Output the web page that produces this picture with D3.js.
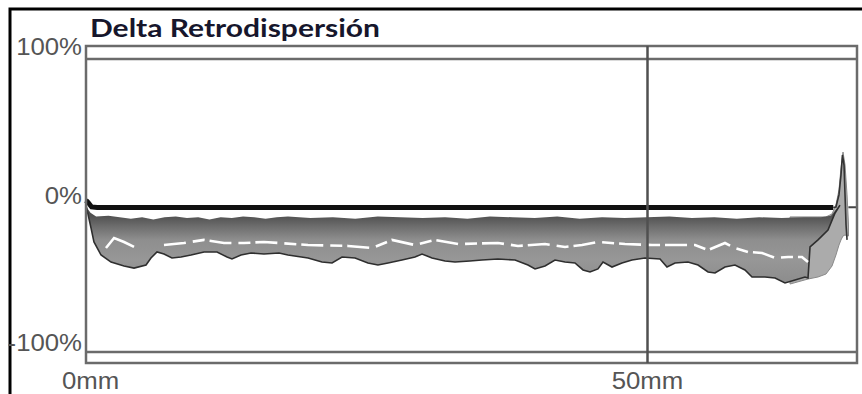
<!DOCTYPE html>
<html>
<head>
<meta charset="utf-8">
<script src="https://cdn.jsdelivr.net/npm/d3@7"></script>
<style>
  html, body { margin: 0; padding: 0; background: #fff; }
  svg { display: block; }
  .tick-label { font-family: "Liberation Sans", Arial, sans-serif; font-size: 23px; fill: #555; }
</style>
</head>
<body>
<svg id="chart" width="862" height="394"></svg>
<script>
// tick labels
const xTicks = [0, 50];
const yTicks = [100, 0, -100];

// lower edge of the profile band (outlined), depth in mm / delta in %
const lowerMm = [0, 0.45, 0.71, 1.34, 2.23, 3.39, 4.28, 5.35, 5.79, 6.33, 6.95, 7.66, 8.47, 9.36, 10.52, 11.68,
  12.57, 13.01, 13.81, 14.71, 15.86, 17.2, 18.0, 19.79, 21.03, 21.93, 22.82, 23.98, 25.13, 26.02, 26.92, 28.16,
  29.32, 29.95, 30.84, 32.0, 32.89, 34.22, 35.29, 36.72, 38.24, 39.39, 40.02, 40.91, 41.8, 42.69, 43.58, 44.3,
  44.92, 45.63, 46.08, 46.88, 47.77, 48.66, 49.82, 51.16, 51.78, 52.5, 53.65, 54.55, 55.44, 56.06, 56.95, 57.84,
  58.73, 59.36, 60.52, 61.41, 62.3, 63.19, 64.08, 64.35, 64.53, 65.24, 66.13, 66.76, 67.2];
const lowerPct = [0.3, -15.4, -24.9, -33.8, -38.6, -41.3, -42.7, -40.6, -35.8, -31.7, -33.1, -35.8, -35.2, -33.8, -31.7, -31.7,
  -35.2, -36.5, -33.8, -32.4, -33.1, -32.4, -33.8, -35.8, -38.6, -39.2, -35.2, -35.8, -39.2, -40.6, -39.2, -37.2,
  -35.2, -33.1, -35.8, -37.9, -38.6, -37.9, -37.2, -36.5, -37.2, -40.6, -43.3, -41.3, -37.2, -38.6, -39.2, -44.0,
  -45.4, -43.3, -38.6, -42.0, -39.2, -37.2, -35.8, -36.5, -42.0, -39.2, -38.6, -40.6, -45.4, -46.1, -42.0, -40.6,
  -44.0, -48.8, -48.8, -49.5, -52.9, -50.9, -48.8, -49.5, -28.3, -23.5, -16.7, -5.1, 0.3];

// upper edge of the grey band (below the white gap)
const gapMm = [0, 0.4, 0.9, 2, 3, 4, 5, 6, 7, 8, 9, 10, 11, 12, 13, 14, 15, 16, 17, 18, 20, 22, 24, 26, 28, 30, 32,
  34, 36, 38, 40, 42, 44, 46, 48, 50, 52, 54, 56, 58, 60, 62, 64, 65.5, 66.4];
const gapPct = [-0.5, -5, -7.5, -7, -8, -9, -8, -9.5, -8, -7.5, -8.5, -8, -9.5, -8, -8.5, -7.5, -8, -9, -8, -7.5, -8.5,
  -8, -9, -7.5, -8, -8.5, -8, -9, -7.5, -8, -8.5, -7.5, -9, -8, -8.5, -8, -7.5, -8.5, -8, -9, -8, -8.5, -8, -8, -7];

// bright (white) profile inside the band
const whiteMm = [1.78, 2.5, 3.39, 4.28, 6.95, 8.73, 10.52, 12.3, 14.08, 15.86, 17.2, 19.79, 23.35, 25.49, 27.27, 29.32,
  31.11, 33.16, 36.72, 38.5, 40.91, 42.69, 44.21, 45.63, 48.04, 50.45, 52.5, 54.28, 55.44, 56.95, 57.84, 59.0,
  60.25, 61.41, 62.57, 63.81, 64.35];
const whitePct = [-29.0, -22.2, -24.9, -28.3, -27.0, -25.6, -23.5, -25.6, -25.6, -24.9, -25.6, -27.0, -27.6, -29.0, -23.5, -27.0,
  -23.5, -26.3, -25.6, -27.6, -26.3, -28.3, -27.0, -24.9, -26.3, -27.0, -27.0, -27.0, -30.4, -25.6, -29.0, -31.7,
  -32.4, -35.8, -35.2, -35.2, -38.6];

// darkest (reference) profile near 0 %
const bandMm = [0, 0.2, 0.5, 1, 20, 40, 60, 66.6];
const bandPct = [3.5, 2, -1, -1.4, -1.3, -1.4, -1.3, -1.4];
const bandTailMm = [67.95, 68.7];
const bandTailPct = [-1.2, -1.2];

// light tail and spike at the far end of the tube
const tailMm = [62.75, 64.35, 65.24, 65.95, 66.49, 66.84, 67.11, 67.29, 67.47, 67.65, 67.83, 67.96];
const tailUpperPct = [-7.8, -7.8, -7.8, -7.8, -5.8, 0.3, 10.6, 25.6, 36.5, 27.6, 7.2, -13.3];
const tailLowerPct = [-53.6, -50.2, -48.8, -46.8, -41.3, -33.8, -27.0, -23.5, -20.8, -20.1, -20.8, -20.8];
const spikeMm = [66.6, 66.84, 67.11, 67.29, 67.42, 67.56, 67.65, 67.74, 67.83];
const spikePct = [-1.4, -1.0, 7.2, 20.8, 34.5, 27.6, 7.2, -13.3, -23.5];

const svg = d3.select("#chart");
const frame = { left: 86, right: 857, top: 46, bottom: 363 };

const x = d3.scaleLinear().domain([0, 50]).range([86, 647]);
const y = d3.scaleLinear().domain([-100, 100]).range([352, 59]);

function zip(mm, pct) {
  return mm.map((d, i) => [x(d), y(pct[i])]);
}

const line = d3.line();

// outer black border of the picture
svg.append("path")
  .attr("d", "M10,394 V9 H862")
  .attr("fill", "none")
  .attr("stroke", "#000")
  .attr("stroke-width", 3);

// title
svg.append("text")
  .attr("x", 90)
  .attr("y", 37)
  .attr("textLength", 290)
  .attr("lengthAdjust", "spacingAndGlyphs")
  .style("font-family", "Lato, 'Open Sans', sans-serif")
  .style("font-weight", "bold")
  .style("font-size", "24px")
  .style("fill", "#16162c")
  .text("Delta Retrodispersión");

// gradient for the grey band
const grad = svg.append("defs").append("linearGradient")
  .attr("id", "bandFill")
  .attr("gradientUnits", "userSpaceOnUse")
  .attr("x1", 0).attr("x2", 0)
  .attr("y1", y(-7)).attr("y2", y(-50));
grad.selectAll("stop")
  .data([[0, "#505050"], [0.15, "#6a6a6a"], [0.38, "#8e8e8e"], [0.7, "#979797"], [1, "#8e8e8e"]])
  .join("stop")
  .attr("offset", d => d[0])
  .attr("stop-color", d => d[1]);

// light tail at the end
const tailPoly = zip(tailMm, tailUpperPct).concat(zip(tailMm, tailLowerPct).reverse());
svg.append("path")
  .attr("d", line(tailPoly) + "Z")
  .attr("fill", "#ababab")
  .attr("stroke", "#8a8a8a")
  .attr("stroke-width", 1);

// main grey band
const bandPoly = zip(gapMm, gapPct).concat(zip(lowerMm, lowerPct).reverse());
svg.append("path")
  .attr("d", line(bandPoly) + "Z")
  .attr("fill", "url(#bandFill)");

// outline of the lowest profile
svg.append("path")
  .attr("d", line(zip(lowerMm, lowerPct)))
  .attr("fill", "none")
  .attr("stroke", "#2e2e2e")
  .attr("stroke-width", 1.6);

// white profile
svg.append("path")
  .attr("d", line(zip(whiteMm.slice(0, 4), whitePct.slice(0, 4))))
  .attr("fill", "none")
  .attr("stroke", "#fff")
  .attr("stroke-width", 2.6);
svg.append("path")
  .attr("d", line(zip(whiteMm.slice(4), whitePct.slice(4))))
  .attr("fill", "none")
  .attr("stroke", "#fff")
  .attr("stroke-width", 2.6)
  .attr("stroke-dasharray", "22,7,12,5");

// spike
svg.append("path")
  .attr("d", line(zip(spikeMm, spikePct)))
  .attr("fill", "none")
  .attr("stroke", "#333")
  .attr("stroke-width", 1.6);

// darkest profile
svg.append("path")
  .attr("d", line(zip(bandMm, bandPct)))
  .attr("fill", "none")
  .attr("stroke", "#111")
  .attr("stroke-width", 5);
svg.append("path")
  .attr("d", line(zip(bandTailMm, bandTailPct)))
  .attr("fill", "none")
  .attr("stroke", "#444")
  .attr("stroke-width", 2);

// frame and grid
const gridColor = "#6b6b6b";
svg.append("rect")
  .attr("x", frame.left)
  .attr("y", frame.top)
  .attr("width", frame.right - frame.left)
  .attr("height", frame.bottom - frame.top)
  .attr("fill", "none")
  .attr("stroke", gridColor)
  .attr("stroke-width", 2.5);

svg.selectAll(".hgrid")
  .data(yTicks.filter(d => d !== 0))
  .join("line")
  .attr("class", "hgrid")
  .attr("x1", frame.left).attr("x2", frame.right)
  .attr("y1", d => y(d)).attr("y2", d => y(d))
  .attr("stroke", gridColor)
  .attr("stroke-width", 2.5);

const xAxis = svg.append("g")
  .attr("transform", `translate(0,${frame.bottom})`)
  .call(d3.axisBottom(x).tickValues(xTicks).tickSize(frame.top - frame.bottom).tickFormat(d => d + "mm"));
xAxis.select(".domain").remove();
xAxis.selectAll(".tick line")
  .attr("stroke", "#505050")
  .attr("stroke-width", 2.5)
  .attr("display", d => d === 0 ? "none" : null);
xAxis.selectAll(".tick text")
  .attr("class", "tick-label")
  .attr("y", 26)
  .attr("dy", 0)
  .attr("dx", d => d === 0 ? 4 : 0);

const yAxis = svg.append("g")
  .attr("transform", `translate(${frame.left},0)`)
  .call(d3.axisLeft(y).tickValues(yTicks).tickSize(0).tickFormat(d => d + "%"));
yAxis.select(".domain").remove();
yAxis.selectAll(".tick text")
  .attr("class", "tick-label")
  .attr("x", -4)
  .attr("dy", d => d === 100 ? -5 : -2);

// the source image is stretched horizontally
svg.selectAll(".tick-label").each(function () {
  const w = this.getComputedTextLength();
  d3.select(this)
    .attr("textLength", w * 1.12)
    .attr("lengthAdjust", "spacingAndGlyphs");
});
</script>
</body>
</html>
